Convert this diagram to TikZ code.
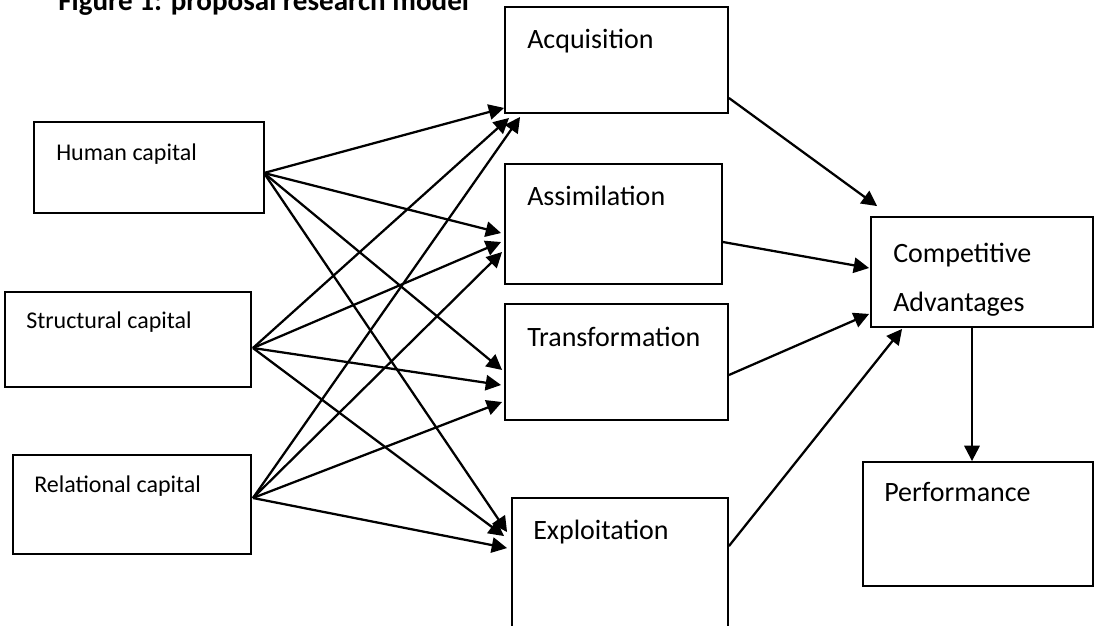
\documentclass[tikz,border=0pt]{standalone}
\usepackage{fontspec}
\setmainfont{Carlito}
\usetikzlibrary{arrows.meta,calc}
\begin{document}
\begin{tikzpicture}[x=0.75pt,y=-0.75pt,
  box/.style={draw=black,line width=1.4pt,rectangle,inner sep=0pt},
  lbl/.style={anchor=base west,inner sep=0pt,font=\fontsize{21pt}{25pt}\selectfont},
  lbls/.style={anchor=base west,inner sep=0pt,font=\fontsize{18pt}{22pt}\selectfont},
  arr/.style={line width=1.7pt,-{Triangle[length=11.5pt,width=11.5pt]}}]
\useasboundingbox (0,0) rectangle (1099,625);
\clip (0,0) rectangle (1099,625);
\fill[white] (0,0) rectangle (1099,625);
% title (cut at top, as in the reference)
\node[anchor=base west,inner sep=0pt,font=\bfseries\fontsize{21.8pt}{26pt}\selectfont] (title) at (58,10) {Figure 1: proposal research model};
% boxes
\node[box,minimum width=172.5pt,minimum height=68.25pt] (hc) at (149,167.5) {};
\node[box,minimum width=184.5pt,minimum height=71.25pt] (sc) at (128,339.5) {};
\node[box,minimum width=178.5pt,minimum height=74.25pt] (rc) at (132,504.5) {};
\node[box,minimum width=167.25pt,minimum height=79.5pt] (acq) at (616.5,60) {};
\node[box,minimum width=162.75pt,minimum height=90pt] (asm) at (613.5,224) {};
\node[box,minimum width=167.25pt,minimum height=87pt] (trf) at (616.5,362) {};
\node[box,minimum width=162pt,minimum height=106.5pt] (exp) at (620,569) {};
\node[box,minimum width=166.5pt,minimum height=82.5pt] (ca) at (982,272) {};
\node[box,minimum width=172.5pt,minimum height=93pt] (perf) at (978,524) {};
% texts
\node[lbls] (thc) at (56,160) {Human capital};
\node[lbls] (tsc) at (26,328) {Structural capital};
\node[lbls] (trc) at (34,492) {Relational capital};
\node[lbl] (tacq) at (527,48) {Acquisition};
\node[lbl] (tasm) at (527,205) {Assimilation};
\node[lbl] (ttrf) at (527,346) {Transformation};
\node[lbl] (texp) at (533,539) {Exploitation};
\node[lbl] (tca1) at (893,262) {Competitive};
\node[lbl] (tca2) at (893,311) {Advantages};
\node[lbl] (tperf) at (884,501) {Performance};
% source points
\coordinate (hcS) at ($(hc.east)+(-1,5.5)$);
\coordinate (scS) at ($(sc.east)+(1,8.5)$);
\coordinate (rcS) at ($(rc.east)+(1,-6.5)$);
% human capital arrows
\draw[arr] (hcS) -- ($(acq.south west)+(0,-6)$);
\draw[arr] (hcS) -- ($(asm.west)+(-3,9)$);
\draw[arr] (hcS) -- ($(trf.west)+(-2,8)$);
\draw[arr] (hcS) -- ($(exp.north west)+(-4,35)$);
% structural capital arrows
\draw[arr] (scS) -- ($(acq.south west)+(5,4)$);
\draw[arr] (scS) -- ($(asm.west)+(-3,18)$);
\draw[arr] (scS) -- ($(trf.west)+(-3,23)$);
\draw[arr] (scS) -- ($(exp.north west)+(-7,39)$);
% relational capital arrows
\draw[arr] (rcS) -- ($(acq.south west)+(16,3)$);
\draw[arr] (rcS) -- ($(asm.west)+(-2,28)$);
\draw[arr] (rcS) -- ($(trf.west)+(-2,40)$);
\draw[arr] (rcS) -- ($(exp.north west)+(-4,51)$);
% to competitive advantages
\draw[arr] ($(acq.east)+(0,38)$) -- ($(ca.north west)+(7,-10)$);
\draw[arr] ($(asm.east)+(0,18)$) -- ($(ca.west)+(-1,-4)$);
\draw[arr] ($(trf.east)+(0,13)$) -- ($(ca.south west)+(-1,-14)$);
\draw[arr] ($(exp.north east)+(0,49)$) -- ($(ca.south west)+(32,1)$);
% to performance
\draw[arr] ($(ca.south)+(-10,0)$) -- ($(perf.north)+(-6,0)$);
\end{tikzpicture}
\end{document}
